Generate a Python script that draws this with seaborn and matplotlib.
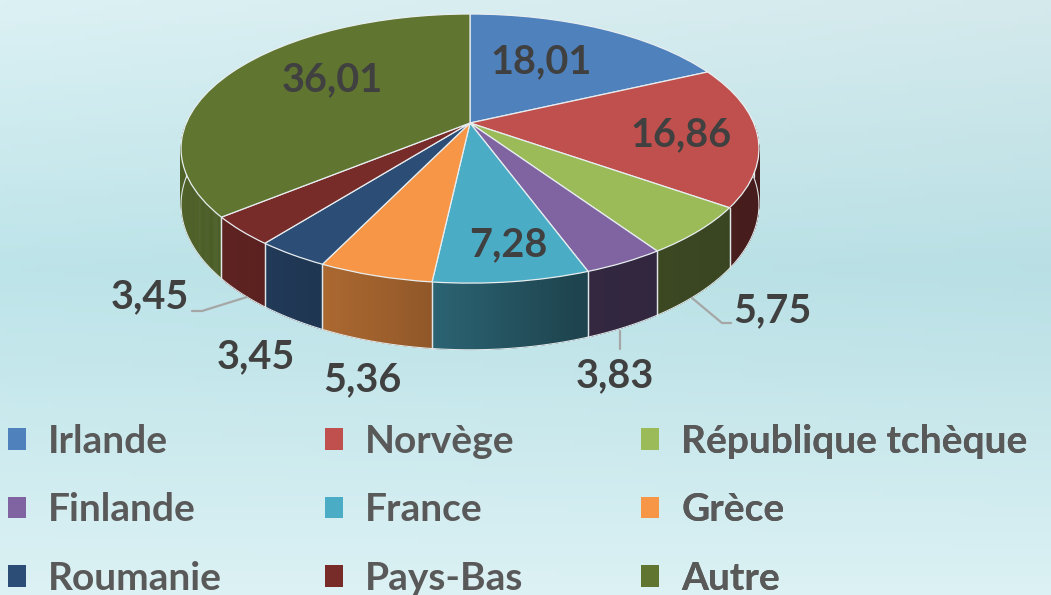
import numpy as np
import matplotlib
matplotlib.use("Agg")
import matplotlib.pyplot as plt
import matplotlib.transforms as mtransforms
from matplotlib.collections import PolyCollection
from matplotlib.colors import to_rgb
from matplotlib.patches import Patch
import seaborn as sns

# data
pays = ["Irlande", "Norvège", "République tchèque", "Finlande", "France",
        "Grèce", "Roumanie", "Pays-Bas", "Autre"]
parts = [18.01, 16.86, 5.75, 3.83, 7.28, 5.36, 3.45, 3.45, 36.01]
couleurs = ["#4F81BD", "#C0504D", "#9BBB59", "#8064A2", "#4BACC6",
            "#F79646", "#2C4D75", "#772C2A", "#5F7530"]
etiquettes = ["18,01", "16,86", "5,75", "3,83", "7,28", "5,36", "3,45", "3,45", "36,01"]

# layout (pixels)
label_pos = [(541, 62), (681, 135), (772, 311), (615, 376), (508, 245),
             (362, 380), (256, 357), (150, 297), (332, 80)]
CX, CY, KX, KY, P, DEPTH = 470, 123, 283.7, 129.7, 0.19, 54


class Tilt(mtransforms.Transform):
    """perspective view of the unit disc"""
    input_dims = output_dims = 2

    def transform_non_affine(self, xy):
        xy = np.asarray(xy, float).reshape(-1, 2)
        w = 1 + P * xy[:, 1]
        return np.column_stack([CX + KX * xy[:, 0] / w, CY - KY * xy[:, 1] / w])


sns.set_theme(style="white")
plt.rcParams["font.family"] = ["Lato", "DejaVu Sans"]

fig = plt.figure(figsize=(10.51, 5.95), dpi=100)
ax = fig.add_axes([0, 0, 1, 1])

# background gradient
yy = np.linspace(0, 1, 120)[:, None]
xx = np.linspace(0, 1, 200)[None, :]
c_top = np.array(to_rgb("#dcf1f4"))
c_mid = np.array(to_rgb("#bde4e9"))
c_bot = np.array(to_rgb("#e4f5f7"))
prof = np.interp(yy, [0, 0.45, 1], [0, 1, 0.15])
grad = c_top + (c_mid - c_top) * prof[..., None]
grad = grad + (c_bot - c_top) * (np.clip(yy - 0.6, 0, 1) / 0.4)[..., None] * 0.6
grad = grad - 0.03 * xx[..., None] * (1 - yy[..., None])
ax.imshow(np.clip(grad, 0, 1), extent=[0, 1051, 595, 0], aspect="auto", zorder=0)

wedges, _ = ax.pie(parts, startangle=90, counterclock=False, colors=couleurs,
                   wedgeprops=dict(edgecolor="#e8eef0", linewidth=0.9))
tilt = Tilt()
for w in wedges:
    w.set_transform(tilt + ax.transData)
    w.set_zorder(3)

# side wall
shade_x = [-1, -0.6, -0.2, 0.3, 1]
shade_f = [0.85, 0.75, 0.62, 0.4, 0.36]
for w, col in zip(wedges, couleurs):
    t = np.radians(np.linspace(w.theta1, w.theta2, 300))
    t = t[np.sin(t) <= 0]
    if len(t) < 2:
        continue
    rim = np.column_stack([np.cos(t), np.sin(t)])
    top = tilt.transform(rim)
    bot = top + np.column_stack([np.zeros(len(t)), DEPTH / (1 + P * rim[:, 1])])
    base = np.array(to_rgb(col))
    quads, cols = [], []
    for i in range(len(t) - 1):
        quads.append([top[i], top[i + 1], bot[i + 1], bot[i]])
        cols.append(np.clip(base * np.interp(rim[i, 0], shade_x, shade_f), 0, 1))
    ax.add_collection(PolyCollection(quads, facecolors=cols, edgecolors=cols,
                                     linewidths=0.4, zorder=1))
    for j in (0, -1):
        ax.plot([top[j, 0], bot[j, 0]], [top[j, 1], bot[j, 1]],
                color="#dfe6e8", lw=0.9, zorder=2)
    ax.plot(bot[:, 0], bot[:, 1], color="#dfe6e8", lw=0.8, zorder=2)

# leader lines
lead = "#a6a6a6"
ax.plot([692, 722, 731], [298, 323, 323], color=lead, lw=1.6, zorder=4)
ax.plot([620, 620], [331, 349], color=lead, lw=1.6, zorder=4)
ax.plot([247, 202, 192], [297, 311, 311], color=lead, lw=1.6, zorder=4)

for txt, (x, y) in zip(etiquettes, label_pos):
    ax.text(x, y, txt, ha="center", va="center", fontsize=28.5,
            fontweight="bold", color="#404040", zorder=5)

# legend: three columns
col_x = [8, 325, 641]
for c in range(3):
    handles = [Patch(facecolor=couleurs[i], edgecolor="none") for i in range(c, 9, 3)]
    leg = ax.legend(handles, pays[c::3], loc="upper left",
                    bbox_to_anchor=(col_x[c], 424), bbox_transform=ax.transData,
                    frameon=False, prop=dict(size=28, weight="bold"),
                    handlelength=0.47, handleheight=0.47, handletextpad=0.56,
                    labelspacing=0.86, borderpad=0, borderaxespad=0,
                    labelcolor="#595959")
    ax.add_artist(leg)

ax.set_aspect("auto")
ax.set_xlim(0, 1051)
ax.set_ylim(595, 0)
ax.axis("off")

fig.savefig("out.png", dpi=100)
